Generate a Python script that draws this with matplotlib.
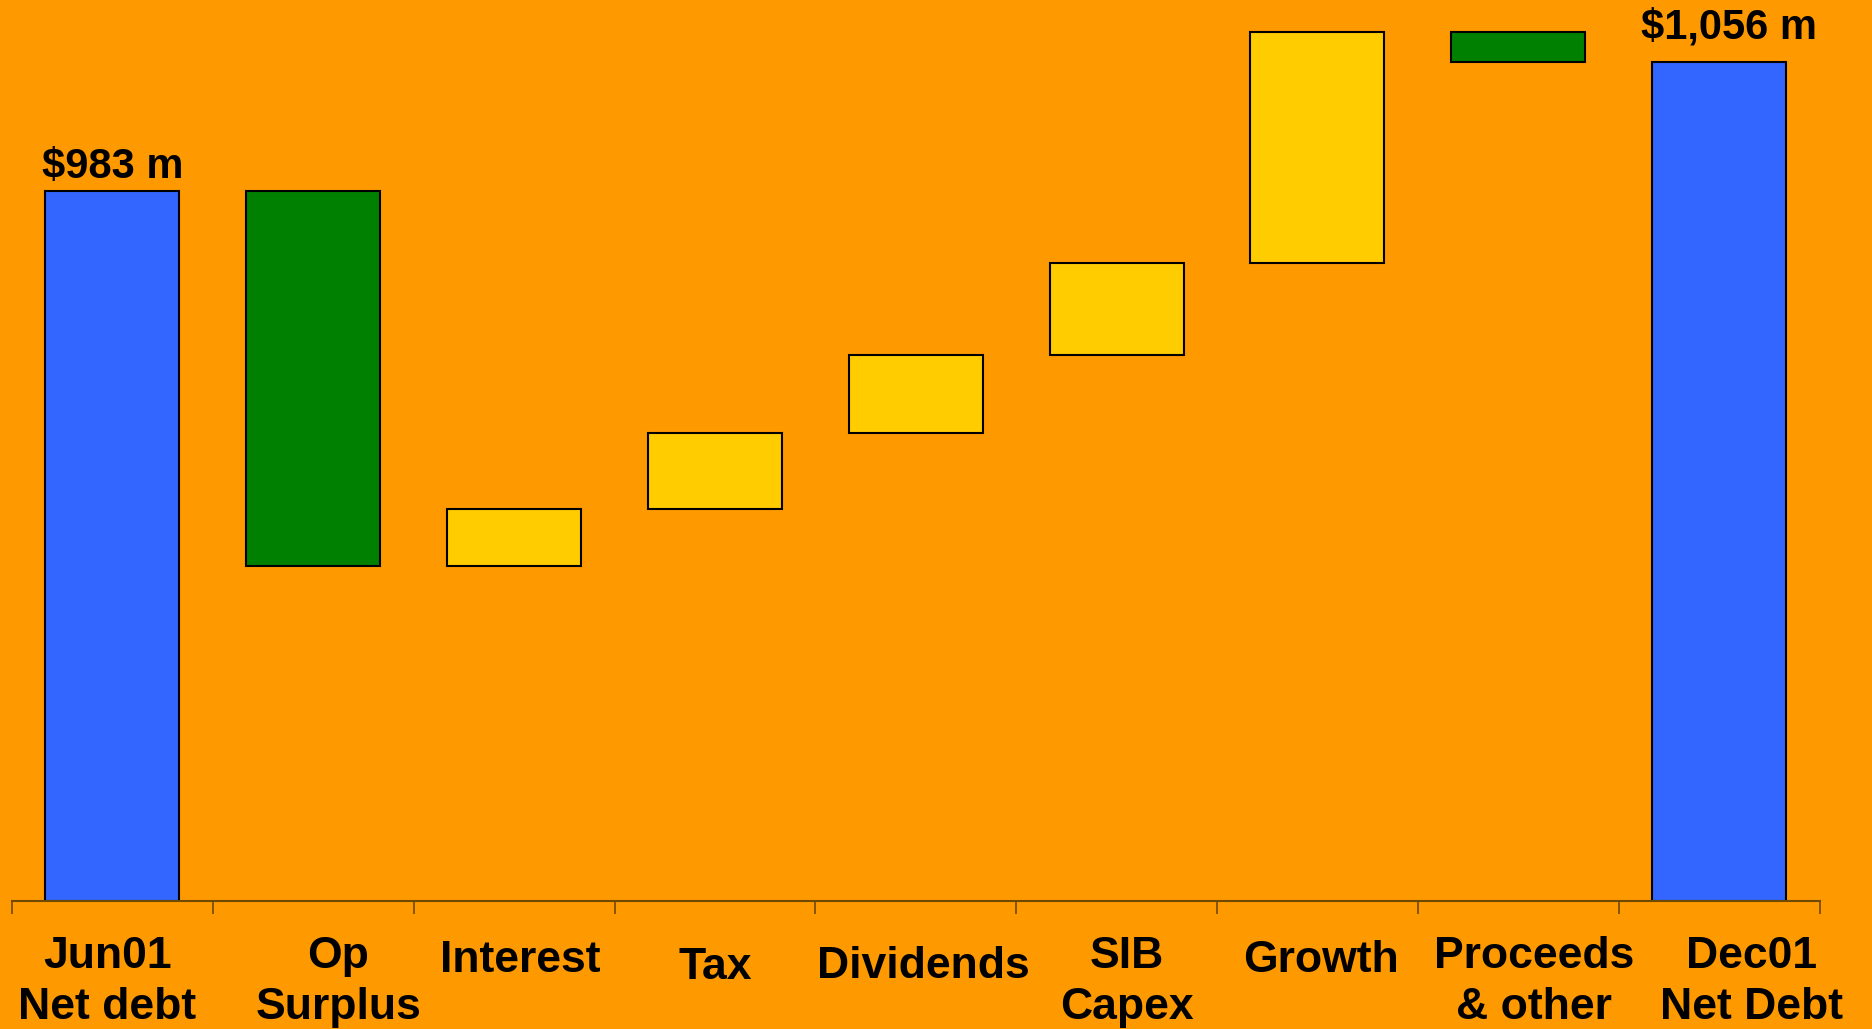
import matplotlib.pyplot as plt

plt.rcParams['font.family'] = ['Liberation Sans', 'DejaVu Sans']
plt.rcParams['font.weight'] = 'bold'

# Kategoriler ve degerler ($ m)
kategoriler = ['Jun01\nNet debt', 'Op\nSurplus', 'Interest', 'Tax', 'Dividends',
               'SIB\nCapex', 'Growth', 'Proceeds\n& other', 'Dec01\nNet Debt']
baslangic = 983
degisimler = [-212, 32, 43, 44, 52, 131, -17]
bitis = 1056
etiketler = ['$983 m', '$1,056 m']

BG = '#FF9900'
MAVI = '#3366FF'
YESIL = '#008000'
SARI = '#FFCC00'
TABAN = 581

# etiket kaydirmalari (kategori birimi, punto)
dx = [-0.025, 0.125, 0.03, 0.0, 0.04, 0.05, 0.02, 0.08, 0.16]
dy = [-25, -25, -28, -33, -32, -25, -28, -25, -25]

fig = plt.figure(figsize=(18.72, 10.29), dpi=100, facecolor=BG)
ax = fig.add_axes([0.0064, 0.124, 0.9656, 0.876])
ax.set_facecolor(BG)

x = list(range(len(kategoriler)))
genislik = 0.667

# Baslangic cubugu
ax.bar(x[0], baslangic - TABAN, bottom=TABAN, width=genislik, color=MAVI, edgecolor='black', linewidth=1.5)

# Ara degisimler
seviye = baslangic
for i, d in enumerate(degisimler):
    yeni = seviye + d
    renk = YESIL if d < 0 else SARI
    ax.bar(x[i + 1], abs(d), bottom=min(seviye, yeni), width=genislik, color=renk,
           edgecolor='black', linewidth=1.5)
    seviye = yeni

# Bitis cubugu
ax.bar(x[-1], bitis - TABAN, bottom=TABAN, width=genislik, color=MAVI, edgecolor='black', linewidth=1.5)

ax.text(x[0], baslangic + 2, etiketler[0], ha='center', va='bottom', fontsize=30, fontweight='bold')
ax.text(x[-1] + 0.05, bitis + 8, etiketler[1], ha='center', va='bottom', fontsize=30, fontweight='bold')

ax.set_xlim(-0.5, len(kategoriler) - 0.5)
ax.set_ylim(TABAN, 1091)

for s in ['top', 'right', 'left']:
    ax.spines[s].set_visible(False)
ax.spines['bottom'].set_color('#6e4a00')
ax.spines['bottom'].set_linewidth(1.5)
ax.set_yticks([])

# Kategori sinirlarinda asagi bakan tikler
ax.set_xticks([i - 0.5 for i in range(len(kategoriler) + 1)])
ax.set_xticklabels([])
ax.tick_params(axis='x', direction='out', length=9, width=1.2, color='#6e4a00')

# Kategori etiketleri
for i, k in enumerate(kategoriler):
    ax.annotate(k, xy=(x[i] + dx[i], 0), xycoords=('data', 'axes fraction'),
                xytext=(0, dy[i]), textcoords='offset points',
                ha='center', va='top', fontsize=32, fontweight='bold',
                linespacing=1.3, annotation_clip=False)

fig.savefig('out.png', dpi=100, facecolor=BG)
